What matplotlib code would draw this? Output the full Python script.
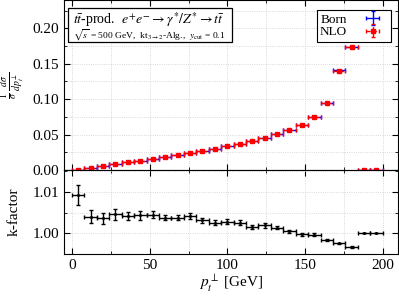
import numpy as np
import matplotlib
matplotlib.use("Agg")
import matplotlib.pyplot as plt
from matplotlib.ticker import MultipleLocator
from matplotlib.patches import Rectangle

plt.rcParams["font.family"] = "Liberation Serif"
plt.rcParams["mathtext.fontset"] = "stix"

# Datos
bins = [4, 12, 20, 28, 36, 44, 52, 60, 68, 76, 84, 92, 100, 108, 116, 124,
        132, 140, 148, 156, 164, 172, 180, 188, 196]
born = [0.0005, 0.0028, 0.0061, 0.0085, 0.0109, 0.0132, 0.0160, 0.0189,
        0.0217, 0.0245, 0.0274, 0.0297, 0.0335, 0.0373, 0.0406, 0.0453,
        0.0510, 0.0566, 0.0642, 0.0755, 0.0944, 0.1406, 0.1737, 0.0, 0.0]
nlo = [0.0005, 0.0028, 0.0061, 0.0086, 0.0110, 0.0133, 0.0161, 0.0190,
       0.0218, 0.0246, 0.0275, 0.0298, 0.0336, 0.0374, 0.0407, 0.0454,
       0.0511, 0.0567, 0.0642, 0.0755, 0.0943, 0.1404, 0.1732, 0.0, 0.0]
kfac = [1.0092, 1.0040, 1.0036, 1.0046, 1.0042, 1.0043, 1.0045, 1.0038,
        1.0038, 1.0042, 1.0032, 1.0026, 1.0028, 1.0026, 1.0016, 1.0019,
        1.0014, 1.0005, 0.9998, 0.9997, 0.9984, 0.9976, 0.9968, 1.0000, 1.0000]
kerr = [0.0025, 0.0016, 0.0013, 0.0013, 0.0010, 0.0010, 0.0009, 0.0007,
        0.0006, 0.0007, 0.0006, 0.0006, 0.0006, 0.0005, 0.0005, 0.0005,
        0.0004, 0.0004, 0.0003, 0.0003, 0.0003, 0.0002, 0.0002, 0.0, 0.0]
binw = 4

fig = plt.figure(figsize=(3.99, 2.97), dpi=100)
ax1 = fig.add_axes([0.161, 0.4276, 0.837, 0.5724])
ax2 = fig.add_axes([0.161, 0.1438, 0.837, 0.2838], sharex=ax1)

# ============================================================
# Panel superior: distribucion
# ============================================================
ax1.errorbar(bins, born, xerr=binw, yerr=0.0012, fmt="none", ecolor="blue",
             elinewidth=1.0, capsize=1.5, capthick=1.0, label="Born")
eb = ax1.errorbar(bins, nlo, xerr=binw, yerr=0.0008, fmt="s", color="red",
                  ms=2.5, elinewidth=1.0, capsize=1.5, capthick=1.0,
                  label="NLO")
for lc in eb[2]:
    lc.set_linestyle((0, (3, 1.5)))
ax1.set_ylim(0, 0.24)
ax1.yaxis.set_major_locator(MultipleLocator(0.05))
ax1.yaxis.set_minor_locator(MultipleLocator(0.025))
ax1.set_ylabel(r"$\frac{1}{\sigma}\,\frac{d\sigma}{dp_t^{\perp}}$", fontsize=10)
ax1.yaxis.set_label_coords(-0.115, 0.5)
ax1.tick_params(labelbottom=False)
leg = ax1.legend(loc="upper right", fontsize=9.5, frameon=True, fancybox=False,
                 edgecolor="black", handlelength=2.3, borderpad=0.25,
                 labelspacing=0.05, markerfirst=False, framealpha=1,
                 handletextpad=0.8, borderaxespad=0,
                 bbox_to_anchor=(0.979, 0.941))
leg.get_frame().set_linewidth(0.8)

ax1.add_patch(Rectangle((0.012, 0.753), 0.491, 0.2, transform=ax1.transAxes,
                        fc="white", ec="black", lw=0.9, zorder=5))
ax1.text(0.025, 0.885,
         r"$t\bar{t}$-prod.  $e^{+}e^{-}\rightarrow\gamma^{*}/Z^{*}\rightarrow t\bar{t}$",
         transform=ax1.transAxes, fontsize=10, va="center", ha="left", zorder=6)
ax1.text(0.025, 0.79,
         r"$\sqrt{s}$ = 500 GeV,  kt$_{3\rightarrow2}$-Alg.,  $y_{\rm cut}$ = 0.1",
         transform=ax1.transAxes, fontsize=6.8, va="center", ha="left", zorder=6)

# ============================================================
# Panel inferior: k-factor
# ============================================================
ax2.errorbar(bins, kfac, xerr=binw, yerr=kerr, fmt="o", color="black", ms=1.2,
             elinewidth=1.0, capsize=1.5, capthick=1.0)
ax2.set_ylim(0.995, 1.0152)
ax2.yaxis.set_major_locator(MultipleLocator(0.01))
ax2.yaxis.set_minor_locator(MultipleLocator(0.005))
ax2.set_ylabel("k-factor", fontsize=11)
ax2.yaxis.set_label_coords(-0.13, 0.5)
ax2.set_xlabel(r"$p_t^{\perp}$ [GeV]", fontsize=11, labelpad=0)
ax2.set_xlim(-5, 210)
ax2.xaxis.set_major_locator(MultipleLocator(50))
ax2.xaxis.set_minor_locator(MultipleLocator(25))

for ax in (ax1, ax2):
    ax.grid(which="both", ls=":", color="#cccccc", lw=0.6)
    ax.tick_params(which="both", direction="in", top=True, right=True,
                   labelsize=11)
    ax.tick_params(which="major", length=4)
    ax.tick_params(which="minor", length=2)
    for s in ax.spines.values():
        s.set_linewidth(0.8)
ax1.set_axisbelow(True)
ax2.set_axisbelow(True)

plt.savefig("out.png", dpi=100)
plt.close()
